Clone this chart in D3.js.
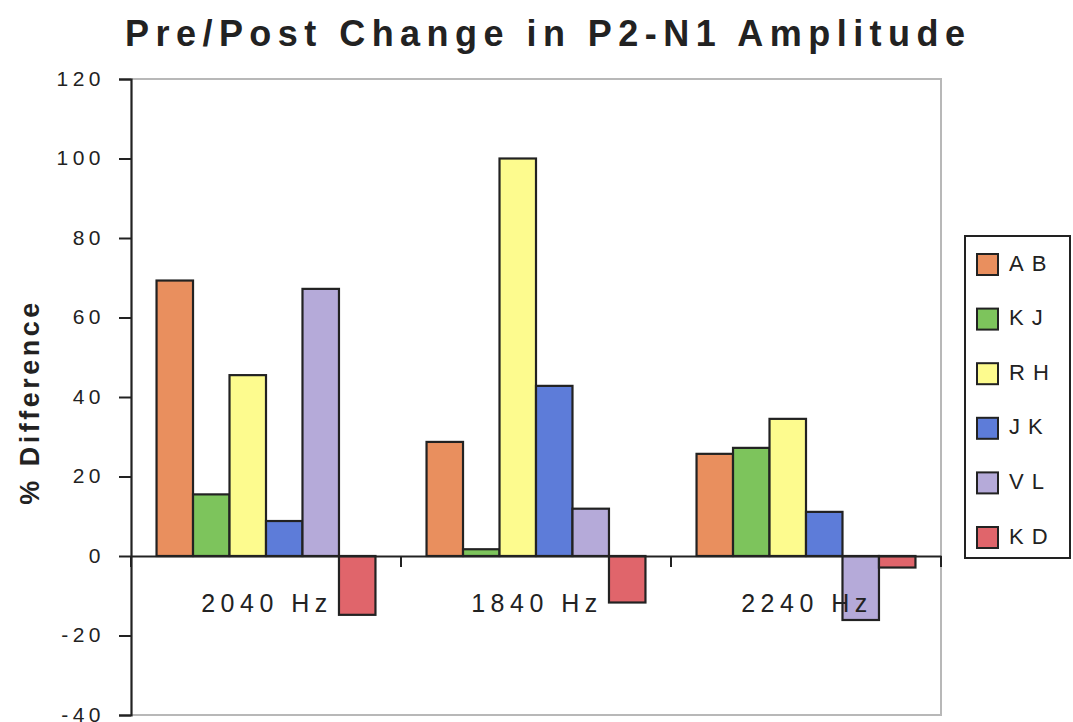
<!DOCTYPE html>
<html>
<head>
<meta charset="utf-8">
<script src="https://cdn.jsdelivr.net/npm/d3@7"></script>
<style>
  html, body { margin: 0; padding: 0; background: #fff; }
  svg { display: block; }
  text { font-family: "Liberation Sans", Arial, sans-serif; fill: #222; }
</style>
</head>
<body>
<svg id="chart" width="1073" height="722"></svg>
<script>
// Frequencies along the x axis
const categories = ["2040 Hz", "1840 Hz", "2240 Hz"];
// Subjects (one bar each per frequency)
const subjects = ["AB", "KJ", "RH", "JK", "VL", "KD"];
// % difference, pre vs post, per subject, in category order
const AB = [69.3, 28.7, 25.7];
const KJ = [15.5, 1.7, 27.2];
const RH = [45.5, 100, 34.5];
const JK = [8.8, 42.8, 11.1];
const VL = [67.2, 11.9, -16.1];
const KD = [-14.8, -11.7, -2.9];
const colors = ["#E98F5E", "#7DC45C", "#FDFB8E", "#5D7CD9", "#B5AAD9", "#E0656B"];
const yTicks = [-40, -20, 0, 20, 40, 60, 80, 100, 120];

const seriesValues = [AB, KJ, RH, JK, VL, KD];

const svg = d3.select("#chart");
const plotLeft = 131, plotRight = 941, plotTop = 79, plotBottom = 715;

const y = d3.scaleLinear().domain([-40, 120]).range([plotBottom, plotTop]);
const x0 = d3.scaleBand().domain(categories).range([plotLeft, plotRight]).paddingInner(0).paddingOuter(0);
const x1 = d3.scaleBand().domain(subjects).range([0, x0.bandwidth()]).paddingInner(0).paddingOuter(0.7);

// Title
svg.append("text")
  .attr("x", 125).attr("y", 46)
  .attr("textLength", 840).attr("lengthAdjust", "spacing")
  .style("font-size", "36px").style("font-weight", "bold")
  .text("Pre/Post Change in P2-N1 Amplitude");

// Plot frame (light grey top, right and bottom)
svg.append("path")
  .attr("d", `M${plotLeft},${plotTop}H${plotRight}V${plotBottom}H${plotLeft}`)
  .attr("fill", "none").attr("stroke", "#b8b8b8").attr("stroke-width", 2);

// Bars
const groups = svg.append("g").selectAll("g")
  .data(categories).join("g")
  .attr("transform", d => `translate(${x0(d)},0)`);

groups.selectAll("rect")
  .data((c, ci) => subjects.map((s, si) => ({ s, si, v: seriesValues[si][ci] })))
  .join("rect")
  .attr("x", d => x1(d.s))
  .attr("width", x1.bandwidth())
  .attr("y", d => y(Math.max(0, d.v)))
  .attr("height", d => Math.abs(y(d.v) - y(0)))
  .attr("fill", d => colors[d.si])
  .attr("stroke", "#222").attr("stroke-width", 2.2);

// Zero baseline with category ticks
const xAxis = d3.axisBottom(x0).tickSize(0).tickFormat("");
svg.append("g").attr("transform", `translate(0,${y(0)})`).call(xAxis)
  .call(g => g.select(".domain").attr("stroke", "#222").attr("stroke-width", 2));
svg.append("g").selectAll("line")
  .data([plotLeft, ...categories.map(c => x0(c) + x0.bandwidth())])
  .join("line")
  .attr("x1", d => d).attr("x2", d => d)
  .attr("y1", y(0)).attr("y2", y(0) + 11)
  .attr("stroke", "#222").attr("stroke-width", 2);

// Category labels
svg.append("g").selectAll("text")
  .data(categories).join("text")
  .attr("x", d => x0(d) + x0.bandwidth() / 2 + 1)
  .attr("y", y(0) + 56)
  .attr("text-anchor", "middle")
  .style("font-size", "25px").style("letter-spacing", "5.5px")
  .text(d => d);

// Y axis
const yAxis = d3.axisLeft(y).tickValues(yTicks).tickSize(12).tickPadding(14).tickFormat(d => String(d));
svg.append("g").attr("transform", `translate(${plotLeft},0)`).call(yAxis)
  .call(g => g.select(".domain").attr("stroke", "#222").attr("stroke-width", 2.2))
  .call(g => g.selectAll(".tick line").attr("stroke", "#222").attr("stroke-width", 2))
  .call(g => g.selectAll(".tick text")
    .attr("dy", "0.3em")
    .style("font-family", "\"Liberation Sans\", Arial, sans-serif")
    .style("font-size", "21px").style("letter-spacing", "4.5px").attr("fill", "#222"));

// Y axis title
svg.append("text")
  .attr("transform", "translate(39,402) rotate(-90)")
  .attr("text-anchor", "middle")
  .style("font-size", "27px").style("font-weight", "bold").style("letter-spacing", "3.5px")
  .text("% Difference");

// Legend
const lg = svg.append("g").attr("transform", "translate(965,236)");
lg.append("rect").attr("width", 105).attr("height", 322)
  .attr("fill", "#fff").attr("stroke", "#222").attr("stroke-width", 2);
const items = lg.selectAll("g.item").data(subjects).join("g")
  .attr("transform", (d, i) => `translate(12,${28.5 + i * 54.6})`);
items.append("rect").attr("x", 0).attr("y", -10.5).attr("width", 21).attr("height", 21)
  .attr("fill", (d, i) => colors[i]).attr("stroke", "#222").attr("stroke-width", 2);
items.append("text").attr("x", 32).attr("y", 6)
  .style("font-size", "22px").style("letter-spacing", "8px")
  .text(d => d);
</script>
</body>
</html>
